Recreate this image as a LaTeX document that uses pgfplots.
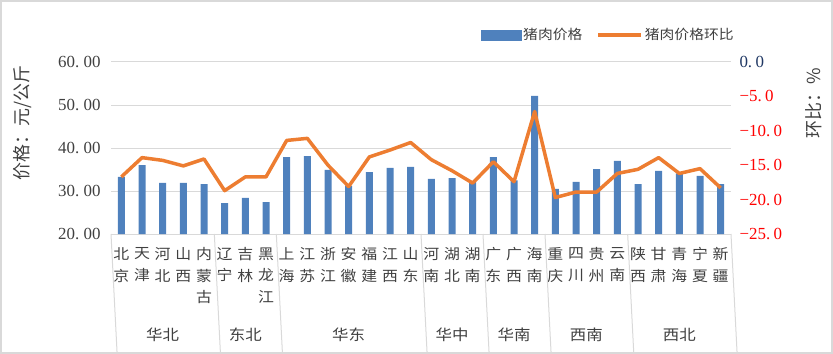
\documentclass[border=0pt]{standalone}
\usepackage{fontspec}
\usepackage{pgfplots}
\pgfplotsset{compat=1.18}
\setmainfont{Liberation Serif}
\newfontfamily\cjk{Noto Sans CJK SC}
\newfontfamily\cjkx[FakeStretch=1.1]{Noto Sans CJK SC}
\newfontfamily\num{Liberation Serif}
\definecolor{barblue}{RGB}{79,129,189}
\definecolor{lineor}{RGB}{237,125,49}
\definecolor{gridgray}{RGB}{217,217,217}
\definecolor{txt}{RGB}{64,64,64}
\definecolor{zero}{RGB}{32,56,100}
\newcommand\D[2]{#1.\kern0.25em#2}
\newcommand\R[2]{\textcolor{red}{−#1.\kern0.2em#2}}
\begin{document}
\begin{tikzpicture}
\useasboundingbox (0,0) rectangle (833bp,354bp);
\draw[gridgray, line width=1.5bp] (1bp,1bp) rectangle (832bp,353bp);
\begin{axis}[
  at={(111bp,120bp)}, anchor=south west,
  scale only axis, width=620bp, height=172bp,
  xmin=-0.5, xmax=29.5, ymin=20, ymax=60,
  clip mode=individual,
  axis x line*=bottom, axis y line*=left,
  y axis line style={draw=none},
  x axis line style={draw=gridgray, line width=1bp, -},
  major tick length=0,
  xtick={0,...,29},
  xticklabels={{北\\京},{天\\津},{河\\北},{山\\西},{内\\蒙\\古},{辽\\宁},{吉\\林},{黑\\龙\\江},{上\\海},{江\\苏},{浙\\江},{安\\徽},{福\\建},{江\\西},{山\\东},{河\\南},{湖\\北},{湖\\南},{广\\东},{广\\西},{海\\南},{重\\庆},{四\\川},{贵\\州},{云\\南},{陕\\西},{甘\\肃},{青\\海},{宁\\夏},{新\\疆}},
  xticklabel style={align=center, anchor=north, yshift=-10bp, font=\cjkx\fontsize{14.5}{21.7}\selectfont, text=txt},
  ytick={20,30,40,50,60},
  yticklabels={\D{20}{00},\D{30}{00},\D{40}{00},\D{50}{00},\D{60}{00}},
  yticklabel style={font=\num\fontsize{17}{20}\selectfont, text=txt, xshift=-7bp},
  ymajorgrids, grid style={gridgray, line width=1bp},
  every axis y label/.style={at={(axis description cs:-0.142,0.645)}, rotate=90, anchor=center},
  ylabel={价格：元/公斤}, ylabel style={font=\cjk\fontsize{18}{20}\selectfont, text=txt},
]
\addplot[ybar, bar width=7bp, fill=barblue, draw=none] coordinates {
(0,33.3) (1,36.0) (2,31.9) (3,31.9) (4,31.6) (5,27.2) (6,28.4) (7,27.4) (8,37.9) (9,38.1)
(10,34.9) (11,31.2) (12,34.4) (13,35.4) (14,35.6) (15,32.8) (16,33.0) (17,32.2) (18,37.9) (19,32.5)
(20,52.1) (21,30.5) (22,32.1) (23,35.1) (24,37.0) (25,31.6) (26,34.7) (27,34.1) (28,33.5) (29,31.6)
};
\foreach \s in {-0.5,4.5,7.5,14.5,17.5,20.5,24.5,29.5}{
  \edef\tmp{\noexpand\draw[gridgray, line width=1bp] (axis cs:\s,20) -- ++(0,-116bp);}\tmp
}
\foreach \c/\n in {2/华北,6/东北,11/华东,16/华中,19/华南,22.5/西南,27/西北}{
  \edef\tmp{\noexpand\node[font=\noexpand\cjkx\noexpand\fontsize{15}{17}\noexpand\selectfont, text=txt] at (axis cs:\c,20) [yshift=-101bp] {\n};}\tmp
}
\end{axis}
\begin{axis}[
  at={(111bp,120bp)}, anchor=south west,
  scale only axis, width=620bp, height=172bp,
  xmin=-0.5, xmax=29.5, ymin=-25, ymax=0,
  axis x line=none, axis y line*=right,
  y axis line style={draw=none},
  major tick length=0,
  ytick={-25,-20,-15,-10,-5,0},
  yticklabels={\R{25}{0},\R{20}{0},\R{15}{0},\R{10}{0},\R{5}{0},\textcolor{zero}{0.\kern0.2em0}},
  yticklabel style={font=\num\fontsize{17}{20}\selectfont, xshift=5bp},
  every axis y label/.style={at={(axis description cs:1.134,0.759)}, rotate=90, anchor=center},
  ylabel={环比：\%}, ylabel style={font=\cjk\fontsize{18}{20}\selectfont, text=txt},
  legend style={at={(axis description cs:0.802,1.157)}, anchor=center, draw=none, fill=none,
    font=\cjkx\fontsize{13.5}{15}\selectfont, text=txt,
    /tikz/every even column/.append style={column sep=12bp}},
  legend columns=2, legend cell align=left,
]
\addlegendimage{legend image code/.code={\fill[barblue] (0bp,-5bp) rectangle (40bp,5bp);}}
\addlegendentry{猪肉价格}
\addplot[lineor, line width=3.5bp, line join=round, mark=none,
  legend image code/.code={\draw[lineor, line width=3.5bp] (0bp,0bp) -- (43bp,0bp);}] coordinates {
(0,-16.7) (1,-13.9) (2,-14.3) (3,-15.1) (4,-14.1) (5,-18.7) (6,-16.7) (7,-16.7) (8,-11.4) (9,-11.1)
(10,-15.0) (11,-18.1) (12,-13.8) (13,-12.8) (14,-11.7) (15,-14.2) (16,-15.8) (17,-17.6) (18,-14.5) (19,-17.4)
(20,-7.2) (21,-19.7) (22,-18.9) (23,-18.9) (24,-16.2) (25,-15.6) (26,-13.9) (27,-16.2) (28,-15.5) (29,-18.3)
};
\addlegendentry{猪肉价格环比}
\end{axis}
\end{tikzpicture}
\end{document}
